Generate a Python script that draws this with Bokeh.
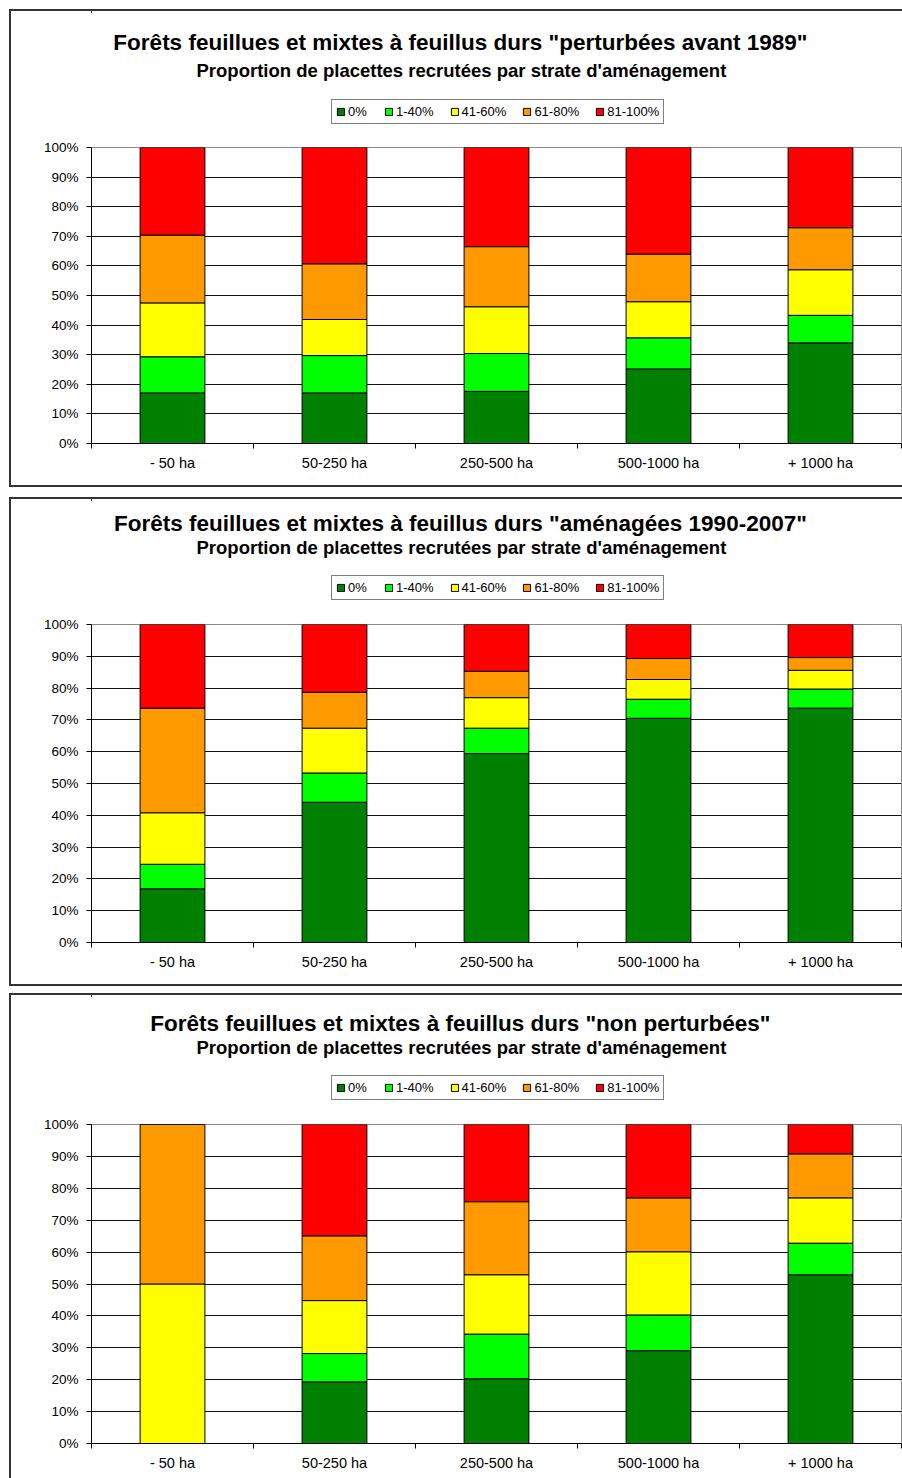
from bokeh.plotting import figure
from bokeh.models import (Range1d, FixedTicker, NumeralTickFormatter, Legend, LegendItem,
                          Label, ColumnDataSource, Spacer)
from bokeh.layouts import column, row
from bokeh.embed import file_html
from bokeh.resources import INLINE

categories = ["- 50 ha", "50-250 ha", "250-500 ha", "500-1000 ha", "+ 1000 ha"]
classes = ["0%", "1-40%", "41-60%", "61-80%", "81-100%"]
colors = ["#008000", "#00FF00", "#FFFF00", "#FF9900", "#FF0000"]

title_1 = "Forêts feuillues et mixtes à feuillus durs \"perturbées avant 1989\""
title_2 = "Forêts feuillues et mixtes à feuillus durs \"aménagées 1990-2007\""
title_3 = "Forêts feuillues et mixtes à feuillus durs \"non perturbées\""
subtitle = "Proportion de placettes recrutées par strate d'aménagement"

# Panel 1 - "perturbées avant 1989" (percent of plots per class)
p1_c0 = [17.1, 17.1, 17.6, 25.2, 34.0]
p1_c1 = [12.2, 12.6, 12.8, 10.5, 9.3]
p1_c2 = [18.2, 12.2, 15.8, 12.2, 15.4]
p1_c3 = [22.9, 18.8, 20.3, 16.1, 14.2]
p1_c4 = [29.6, 39.3, 33.5, 36.0, 27.1]

# Panel 2 - "aménagées 1990-2007"
p2_c0 = [16.9, 44.1, 59.4, 70.5, 73.7]
p2_c1 = [7.7, 9.2, 8.0, 6.0, 6.0]
p2_c2 = [16.2, 14.1, 9.6, 6.2, 5.9]
p2_c3 = [32.9, 11.3, 8.3, 6.6, 4.0]
p2_c4 = [26.3, 21.3, 14.7, 10.7, 10.4]

# Panel 3 - "non perturbées"
p3_c0 = [0.0, 19.3, 20.3, 29.1, 52.9]
p3_c1 = [0.0, 8.9, 14.0, 11.2, 9.9]
p3_c2 = [50.0, 16.6, 18.6, 19.8, 14.2]
p3_c3 = [50.0, 20.3, 22.9, 16.9, 13.8]
p3_c4 = [0.0, 34.9, 24.2, 23.0, 9.2]

FONT = "Liberation Sans"
W = 893
LEFT = 80
RIGHT = 3
FRAME_W = W - 2 - LEFT - RIGHT
BORDER = "2px solid #333333"


def make_header(title_text, height, title_y, sub_y, legend_y):
    inner = height - 2
    h = figure(width=W, height=height, x_range=Range1d(0, FRAME_W), y_range=Range1d(inner, 0),
               output_backend="svg", toolbar_location=None, title=None,
               x_axis_location=None, y_axis_location=None,
               min_border_left=LEFT, min_border_right=RIGHT, min_border_top=0,
               min_border_bottom=0)
    h.styles = {"border-left": BORDER, "border-top": BORDER}
    h.xgrid.visible = False
    h.ygrid.visible = False
    h.outline_line_color = None
    h.background_fill_color = "white"
    h.border_fill_color = "white"
    # legend proxies, kept outside the visible x range
    swatches = [h.vbar(x=[-100], top=[1], bottom=[0], width=1, fill_color=c,
                       line_color="black", line_width=1) for c in colors]
    legend = Legend(items=[LegendItem(label=c, renderers=[r]) for c, r in zip(classes, swatches)],
                    orientation="horizontal", location=(240, inner - legend_y),
                    label_text_font=FONT, label_text_font_size="13px",
                    label_text_color="black",
                    glyph_width=9, glyph_height=9, label_standoff=3, spacing=16,
                    padding=4, label_height=12, margin=0,
                    border_line_color="black", border_line_width=1,
                    background_fill_color="white", background_fill_alpha=1)
    h.add_layout(legend)
    h.add_layout(Label(x=369, y=sub_y, text=subtitle,
                       text_align="center", text_baseline="middle", text_font=FONT,
                       text_font_size="18.5px", text_font_style="bold", text_color="black"))
    h.add_layout(Label(x=368, y=title_y, text=title_text,
                       text_align="center", text_baseline="middle", text_font=FONT,
                       text_font_size="22.5px", text_font_style="bold", text_color="black"))
    return h


def make_chart(series, height, bottom, border_bottom=True):
    p = figure(width=W, height=height, x_range=Range1d(0, len(categories)),
               y_range=Range1d(0, 1), output_backend="svg", toolbar_location=None,
               title=None, min_border_left=LEFT, min_border_right=RIGHT,
               min_border_top=8, min_border_bottom=bottom)
    sides = {"border-left": BORDER}
    if border_bottom:
        sides["border-bottom"] = BORDER
    p.styles = sides

    xs = [i + 0.5 for i in range(len(categories))]
    data = {"x": xs}
    keys = []
    for k, vals in enumerate(series):
        key = "c%d" % k
        keys.append(key)
        data[key] = [v / 100.0 for v in vals]
    src = ColumnDataSource(data)
    p.vbar_stack(keys, x="x", width=0.4, source=src, fill_color=colors,
                 line_color="black", line_width=1)

    p.background_fill_color = "white"
    p.border_fill_color = "white"
    p.outline_line_color = "#8a8a8a"
    p.outline_line_width = 1

    p.xgrid.visible = False
    p.ygrid.ticker = FixedTicker(ticks=[i / 10 for i in range(11)])
    p.ygrid.grid_line_color = "#111111"
    p.ygrid.grid_line_width = 1

    xa = p.xaxis[0]
    xa.ticker = FixedTicker(ticks=xs, minor_ticks=list(range(len(categories) + 1)))
    xa.major_label_overrides = {x: c for x, c in zip(xs, categories)}
    xa.major_tick_line_color = None
    xa.major_tick_out = 0
    xa.major_tick_in = 0
    xa.minor_tick_line_color = "black"
    xa.minor_tick_out = 5
    xa.minor_tick_in = 0
    xa.axis_line_color = "black"
    xa.major_label_text_font = FONT
    xa.major_label_text_font_size = "14.5px"
    xa.major_label_text_color = "black"
    xa.major_label_standoff = 6

    ya = p.yaxis[0]
    ya.ticker = FixedTicker(ticks=[i / 10 for i in range(11)])
    ya.formatter = NumeralTickFormatter(format="0%")
    ya.major_tick_out = 5
    ya.major_tick_in = 0
    ya.minor_tick_line_color = None
    ya.axis_line_color = "black"
    ya.major_tick_line_color = "black"
    ya.major_label_text_font = FONT
    ya.major_label_text_font_size = "13.5px"
    ya.major_label_text_color = "black"
    ya.major_label_standoff = 8
    return p


h1 = make_header(title_1, 130, 31, 58, 111)
c1 = make_chart([p1_c0, p1_c1, p1_c2, p1_c3, p1_c4], 348, 44)
h2 = make_header(title_2, 119, 24, 47, 99)
c2 = make_chart([p2_c0, p2_c1, p2_c2, p2_c3, p2_c4], 370, 44)
h3 = make_header(title_3, 123, 28, 51, 103)
c3 = make_chart([p3_c0, p3_c1, p3_c2, p3_c3, p3_c4], 362, 35, border_bottom=False)

stack = column(Spacer(height=9), h1, c1, Spacer(height=10), h2, c2, Spacer(height=7), h3, c3,
               spacing=0)
layout = row(Spacer(width=9), stack, spacing=0)
open("out.html", "w").write(file_html(layout, INLINE))
